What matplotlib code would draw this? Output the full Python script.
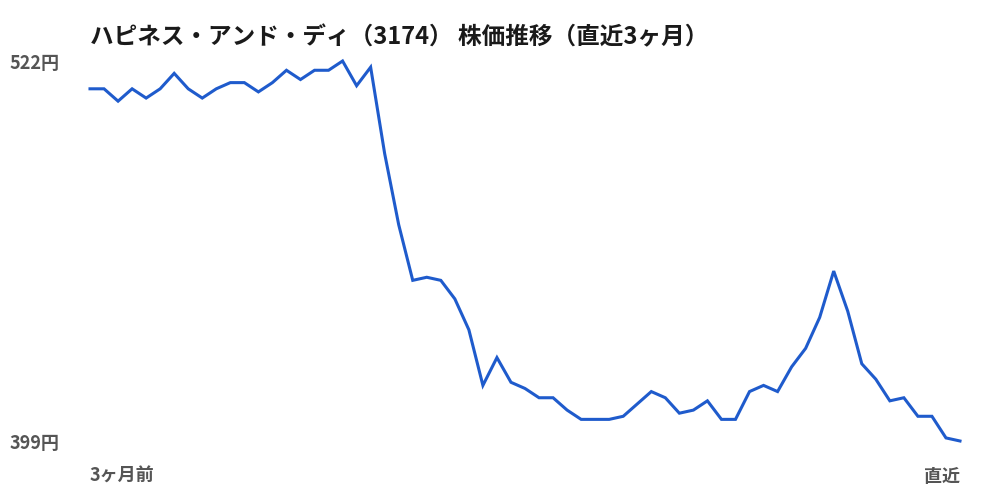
import matplotlib
matplotlib.use("Agg")
import matplotlib.pyplot as plt

plt.rcParams['font.family'] = ['Noto Sans CJK JP', 'DejaVu Sans']

title = "ハピネス・アンド・ディ（3174） 株価推移（直近3ヶ月）"
prices = [513, 513, 509, 513, 510, 513, 518, 513, 510, 513, 515, 515, 512, 515, 519,
          516, 519, 519, 522, 514, 520, 492, 469, 451, 452, 451, 445, 435, 417, 426,
          418, 416, 413, 413, 409, 406, 406, 406, 407, 411, 415, 413, 408, 409, 412,
          406, 406, 415, 417, 415, 423, 429, 439, 454, 441, 424, 419, 412, 413, 407,
          407, 400, 399]
x_labels = ["3ヶ月前", "直近"]
unit = "円"

fig = plt.figure(figsize=(10, 5), dpi=100)
ax = fig.add_axes([0.09, 0.118, 0.87, 0.76])
xs = list(range(len(prices)))
ax.plot(xs, prices, color='#1f5bcc', linewidth=2.2, clip_on=False, solid_joinstyle='miter')
ax.set_xlim(0, len(prices) - 1)
ymin, ymax = min(prices), max(prices)
ax.set_ylim(ymin, ymax)
ax.axis('off')

lab_color = '#555555'
for v in (ymax, ymin):
    yfig = ax.transData.transform((0, v))[1] / fig.dpi / 5
    fig.text(0.010, yfig - 0.005, f"{v}{unit}", ha='left', va='center', fontsize=13,
             fontweight='bold', color=lab_color)

fig.text(0.090, 0.048, x_labels[0], ha='left', va='center', fontsize=13,
         fontweight='bold', color=lab_color)
fig.text(0.960, 0.048, x_labels[1], ha='right', va='center', fontsize=13,
         fontweight='bold', color=lab_color)

fig.text(0.090, 0.926, title, ha='left', va='center', fontsize=17,
         fontweight='bold', color='#1a1a1a')

fig.savefig("out.png", dpi=100, facecolor='white')
